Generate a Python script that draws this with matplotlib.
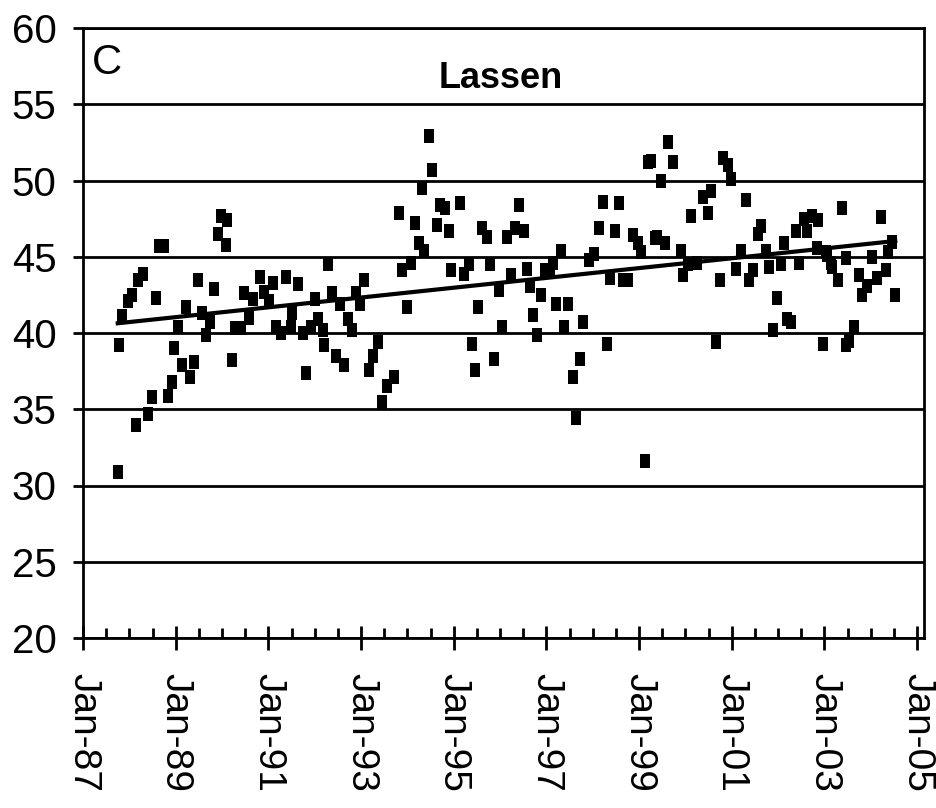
import numpy as np
import matplotlib
matplotlib.use('Agg')
import matplotlib.pyplot as plt
from matplotlib.ticker import MultipleLocator


# sample dates (decimal years) and values
dates = [1987.75, 1987.78, 1987.85, 1987.97, 1988.05, 1988.14, 1988.19, 1988.30,
         1988.40, 1988.48, 1988.57, 1988.63, 1988.74, 1988.83, 1988.93, 1988.96,
         1989.04, 1989.14, 1989.22, 1989.32, 1989.39, 1989.49, 1989.57, 1989.66,
         1989.75, 1989.82, 1989.91, 1989.98, 1990.09, 1990.11, 1990.21, 1990.29,
         1990.40, 1990.47, 1990.58, 1990.66, 1990.81, 1990.90, 1991.01, 1991.11,
         1991.17, 1991.27, 1991.38, 1991.49, 1991.52, 1991.65, 1991.74, 1991.81,
         1991.92, 1992.00, 1992.08, 1992.17, 1992.20, 1992.29, 1992.38, 1992.46,
         1992.54, 1992.63, 1992.72, 1992.81, 1992.90, 1992.97, 1993.06, 1993.17,
         1993.26, 1993.37, 1993.46, 1993.57, 1993.71, 1993.82, 1993.89, 1994.00,
         1994.07, 1994.16, 1994.25, 1994.31, 1994.35, 1994.46, 1994.53, 1994.64,
         1994.71, 1994.82, 1994.89, 1994.95, 1995.14, 1995.22, 1995.32, 1995.39,
         1995.45, 1995.52, 1995.61, 1995.72, 1995.79, 1995.88, 1995.98, 1996.05,
         1996.15, 1996.24, 1996.33, 1996.41, 1996.51, 1996.58, 1996.65, 1996.72,
         1996.79, 1996.89, 1996.96, 1997.08, 1997.15, 1997.21, 1997.31, 1997.39,
         1997.47, 1997.58, 1997.65, 1997.72, 1997.80, 1997.92, 1998.03, 1998.14,
         1998.23, 1998.31, 1998.38, 1998.48, 1998.56, 1998.66, 1998.76, 1998.86,
         1998.98, 1999.05, 1999.12, 1999.19, 1999.26, 1999.34, 1999.39, 1999.48,
         1999.55, 1999.62, 1999.73, 1999.91, 1999.95, 2000.05, 2000.12, 2000.25,
         2000.38, 2000.48, 2000.55, 2000.66, 2000.74, 2000.81, 2000.91, 2000.98,
         2001.09, 2001.20, 2001.31, 2001.38, 2001.45, 2001.56, 2001.63, 2001.74,
         2001.81, 2001.90, 2001.97, 2002.06, 2002.12, 2002.20, 2002.28, 2002.38,
         2002.46, 2002.55, 2002.62, 2002.74, 2002.85, 2002.87, 2002.96, 2003.03,
         2003.06, 2003.14, 2003.17, 2003.29, 2003.37, 2003.46, 2003.47, 2003.54,
         2003.64, 2003.75, 2003.82, 2003.91, 2004.03, 2004.14, 2004.23, 2004.32,
         2004.37, 2004.46, 2004.53]
values = [30.9, 39.2, 41.1, 42.1, 42.5, 34.0, 43.5, 43.9,
          34.7, 35.8, 42.3, 45.7, 45.7, 35.9, 36.8, 39.0,
          40.4, 37.9, 41.7, 37.1, 38.1, 43.5, 41.3, 39.9,
          40.7, 42.9, 46.5, 47.7, 45.8, 47.4, 38.2, 40.3,
          40.3, 42.6, 41.0, 42.2, 43.7, 42.7, 42.1, 43.3,
          40.4, 40.0, 43.7, 40.4, 41.3, 43.2, 40.0, 37.4,
          40.4, 42.2, 40.9, 40.2, 39.2, 44.5, 42.6, 38.5,
          41.9, 37.9, 40.9, 40.2, 42.6, 41.9, 43.5, 37.6,
          38.5, 39.4, 35.5, 36.5, 37.1, 47.9, 44.1, 41.7,
          44.6, 47.2, 45.9, 49.5, 45.4, 52.9, 50.7, 47.1,
          48.4, 48.2, 46.7, 44.1, 48.5, 43.9, 44.5, 39.3,
          37.6, 41.7, 46.9, 46.3, 44.5, 38.3, 42.8, 40.4,
          46.3, 43.8, 46.9, 48.4, 46.7, 44.2, 43.1, 41.2,
          39.9, 42.5, 44.1, 44.1, 44.6, 41.9, 45.4, 40.4,
          41.9, 37.1, 34.4, 38.3, 40.7, 44.8, 45.2, 46.9,
          48.6, 39.3, 43.6, 46.7, 48.5, 43.5, 43.5, 46.4,
          45.9, 45.3, 31.6, 51.2, 51.3, 46.2, 46.3, 50.0,
          45.9, 52.5, 51.2, 45.4, 43.8, 44.5, 47.7, 44.6,
          48.9, 47.9, 49.3, 39.4, 43.5, 51.5, 51.0, 50.1,
          44.2, 45.4, 48.7, 43.5, 44.1, 46.5, 47.0, 45.4,
          44.3, 40.2, 42.3, 44.5, 45.9, 40.9, 40.7, 46.7,
          44.6, 47.5, 46.7, 47.7, 45.6, 47.4, 39.3, 45.3,
          45.1, 44.6, 44.3, 43.5, 48.2, 39.2, 44.9, 39.5,
          40.4, 43.8, 42.5, 43.1, 45.0, 43.6, 47.6, 44.1,
          45.3, 46.0, 42.5]

tick_years = [1987, 1989, 1991, 1993, 1995, 1997, 1999, 2001, 2003, 2005]
tick_labels = ['Jan-87', 'Jan-89', 'Jan-91', 'Jan-93', 'Jan-95',
               'Jan-97', 'Jan-99', 'Jan-01', 'Jan-03', 'Jan-05']

fonts = ['Liberation Sans', 'DejaVu Sans']

fig = plt.figure(figsize=(9.37, 8.08), dpi=100)
ax = fig.add_axes([83 / 937, 1 - 638 / 808, 841 / 937, 610 / 808])

# slightly tall square, like the original
box = [(-0.39, -0.5), (0.39, -0.5), (0.39, 0.5), (-0.39, 0.5), (-0.39, -0.5)]
ax.plot(dates, values, linestyle='none', marker=box, markersize=10,
        color='black', markeredgewidth=0, zorder=3)

# linear trend
slope, icpt = np.polyfit(dates, values, 1)
tx = np.array([min(dates), max(dates)])
ax.plot(tx, slope * tx + icpt, color='black', lw=3, zorder=4)

ax.set_xlim(1987, 2005.15)
ax.set_ylim(20, 60)
ax.set_yticks(range(20, 61, 5))
ax.set_xticks(tick_years)
ax.set_xticklabels(tick_labels, rotation=270, ha='center', va='top',
                   family=fonts, fontsize=28)
ax.xaxis.set_minor_locator(MultipleLocator(0.5))
for lab in ax.get_yticklabels():
    lab.set_family(fonts)
    lab.set_fontsize(29)

ax.grid(axis='y', color='black', lw=2)
ax.set_axisbelow(True)
for s in ax.spines.values():
    s.set_linewidth(2)
    s.set_color('black')

ax.tick_params(axis='y', direction='out', length=7, width=2, pad=12)
ax.tick_params(axis='x', which='major', direction='inout', length=17, width=2, pad=17)
ax.tick_params(axis='x', which='minor', direction='in', length=7, width=2)

ax.text(0.497, 0.918, 'Lassen', transform=ax.transAxes, ha='center', va='center',
        family=fonts, fontweight='bold', fontsize=26)
ax.text(0.011, 0.975, 'C', transform=ax.transAxes, ha='left', va='top',
        family=fonts, fontsize=30)

fig.savefig('out.png', dpi=100)
